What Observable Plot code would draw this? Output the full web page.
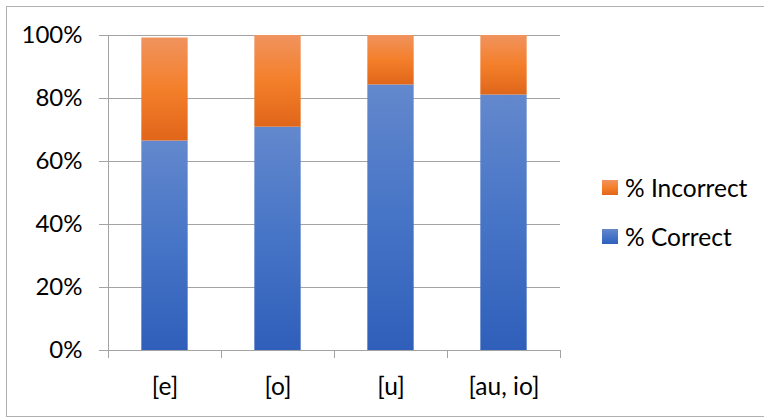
<!DOCTYPE html>
<html>
<head>
<meta charset="utf-8">
<script src="https://cdn.jsdelivr.net/npm/d3@7"></script>
<script src="https://cdn.jsdelivr.net/npm/@observablehq/plot@0.6"></script>
<style>
  html, body { margin: 0; padding: 0; background: #fff; overflow: hidden; }
  #chart { position: relative; width: 764px; height: 419px; font-family: Lato, "Open Sans", sans-serif; color: #000; }
  #frame { position: absolute; left: 6px; top: 6px; width: 800px; height: 411px; border: 1.5px solid #b0b0b0; box-sizing: border-box; pointer-events: none; }
  #plot { position: absolute; left: 0; top: 0; }
  .legend-item { position: absolute; left: 602px; display: flex; align-items: center; height: 30px; font-size: 24.5px; }
  .legend-item .sw { width: 16px; height: 15px; margin-right: 7px; }
</style>
</head>
<body>
<svg width="0" height="0" style="position:absolute">
  <defs>
    <linearGradient id="gradCorrect" x1="0" y1="0" x2="0" y2="1">
      <stop offset="0" stop-color="#6388cd"/>
      <stop offset="0.5" stop-color="#4674c6"/>
      <stop offset="1" stop-color="#2f5fba"/>
    </linearGradient>
    <linearGradient id="gradIncorrect" x1="0" y1="0" x2="0" y2="1">
      <stop offset="0" stop-color="#f0935e"/>
      <stop offset="0.5" stop-color="#f47f2a"/>
      <stop offset="1" stop-color="#e0661a"/>
    </linearGradient>
  </defs>
</svg>
<div id="chart">
  <div id="plot"></div>
  <div id="frame"></div>
</div>
<script>
// Vowel categories and the share of answers per category (percent)
const categories = ["[e]", "[o]", "[u]", "[au, io]"];
const pctCorrect = [66.5, 70.9, 84.3, 81.1];
const pctIncorrect = [32.7, 29.1, 15.7, 18.9];
const yTicks = [0, 20, 40, 60, 80, 100];
const seriesNames = ["% Incorrect", "% Correct"];

const seriesFill = {"% Correct": "url(#gradCorrect)", "% Incorrect": "url(#gradIncorrect)"};
const gridColor = "#a3a3a3";
const halfBar = 0.205; // half of the bar width, in category slots

const idx = d3.range(categories.length);
const slotEdges = d3.range(categories.length + 1).map(i => i - 0.5);

const correctRows = idx.map(i => ({i, y1: 0, y2: pctCorrect[i]}));
const incorrectRows = idx.map(i => ({i, y1: pctCorrect[i], y2: pctCorrect[i] + pctIncorrect[i]}));

const chart = Plot.plot({
  width: 764,
  height: 419,
  marginLeft: 108,
  marginRight: 204,
  marginTop: 35,
  marginBottom: 69,
  style: {fontFamily: "Lato, 'Open Sans', sans-serif", fontSize: "24px", color: "#000", background: "transparent"},
  x: {domain: [-0.5, categories.length - 0.5], label: null},
  y: {domain: [yTicks[0], yTicks[yTicks.length - 1]], label: null},
  marks: [
    Plot.gridY(yTicks, {stroke: gridColor, strokeOpacity: 1}),
    Plot.rectY(correctRows, {x1: d => d.i - halfBar, x2: d => d.i + halfBar, y1: "y1", y2: "y2", fill: seriesFill["% Correct"]}),
    Plot.rectY(incorrectRows, {x1: d => d.i - halfBar, x2: d => d.i + halfBar, y1: "y1", y2: "y2", fill: seriesFill["% Incorrect"]}),
    Plot.ruleX([slotEdges[0]], {y1: yTicks[0], y2: yTicks[yTicks.length - 1], stroke: gridColor}),
    Plot.ruleY([yTicks[0]], {stroke: gridColor}),
    Plot.axisY({ticks: yTicks, tickSize: 9, tickPadding: 17, tickFormat: d => d + "%", stroke: gridColor, fill: "#000", label: null}),
    Plot.axisX({ticks: slotEdges, tickSize: 8, tickFormat: () => "", stroke: gridColor, label: null}),
    Plot.axisX({ticks: idx, tickSize: 0, tickPadding: 27.5, tickFormat: i => categories[i], fill: "#000", fontSize: 24.5, label: null})
  ]
});
document.getElementById("plot").appendChild(chart);

// Legend on the right
const legendTop = {"% Incorrect": 172, "% Correct": 221};
const chartDiv = document.getElementById("chart");
seriesNames.forEach(name => {
  const item = document.createElement("div");
  item.className = "legend-item";
  item.style.top = legendTop[name] + "px";
  const sw = document.createElement("span");
  sw.className = "sw";
  sw.style.background = name === "% Correct"
    ? "linear-gradient(#6388cd, #4674c6, #2f5fba)"
    : "linear-gradient(#f0935e, #f47f2a, #e0661a)";
  const label = document.createElement("span");
  label.textContent = name;
  item.appendChild(sw);
  item.appendChild(label);
  chartDiv.appendChild(item);
});
</script>
</body>
</html>
